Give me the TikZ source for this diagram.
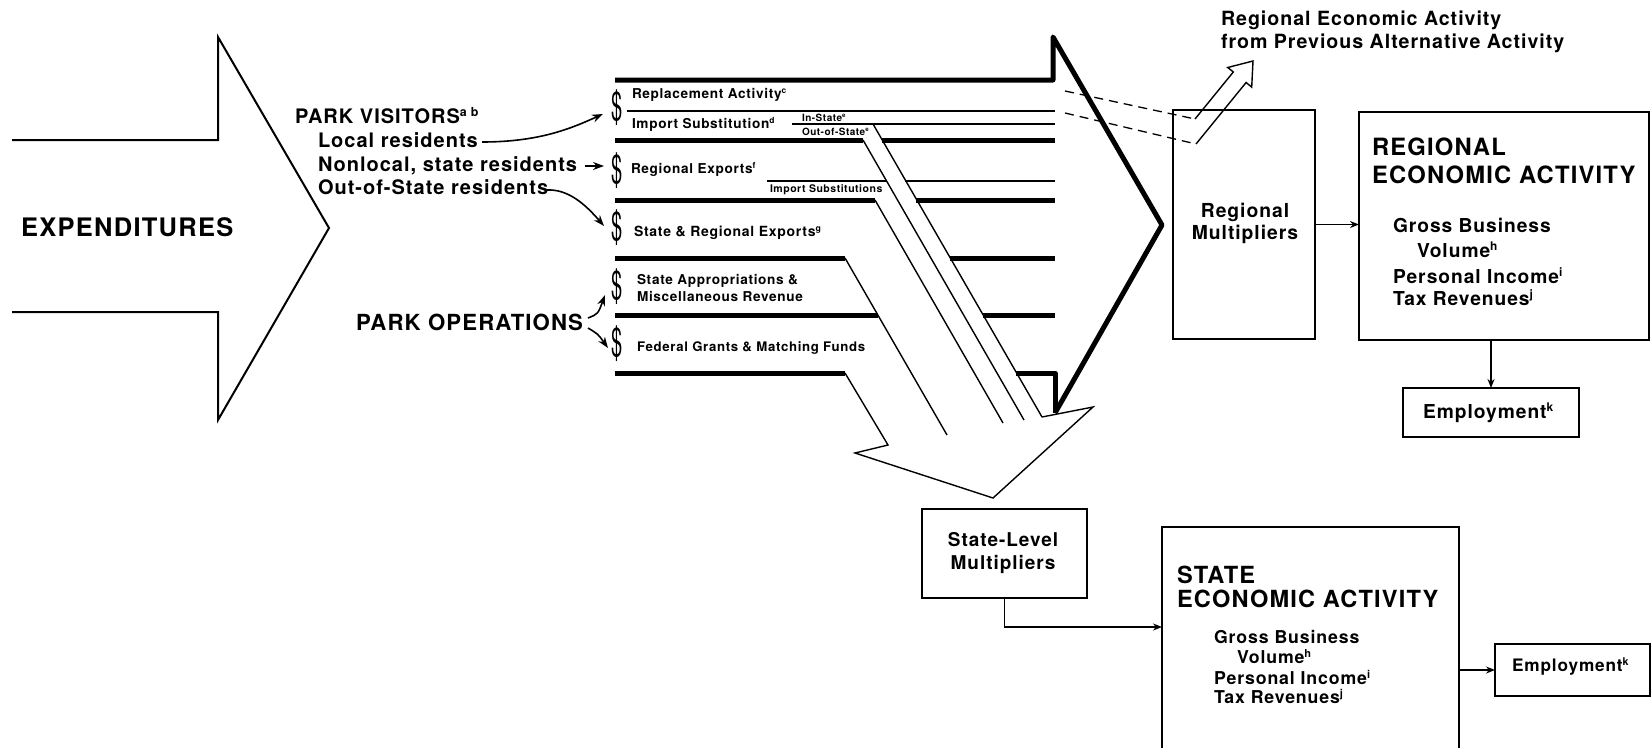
\documentclass[tikz,border=0pt]{standalone}
\usepackage{fontspec}
\setmainfont{TeX Gyre Heros}[LetterSpace=5]
\usepackage{graphicx}
\usetikzlibrary{arrows.meta}
\newcommand\fs[1]{\fontsize{#1}{#1}\selectfont\bfseries}
\newcommand\dol{\scalebox{0.5}[1]{\fontsize{40}{40}\selectfont\mdseries\$}}
\newcommand\sps[1]{\raisebox{0.32em}{\scalebox{0.62}{#1}}}
\begin{document}
\begin{tikzpicture}[x=1pt,y=-1pt,
  txt/.style={anchor=base west,inner sep=0pt,outer sep=0pt},
  ctxt/.style={anchor=base,inner sep=0pt,outer sep=0pt},
  heavy/.style={line width=5pt},
  bigthin/.style={line width=2pt,line join=miter},
  thinl/.style={line width=1.3pt},
  strand/.style={line width=1.4pt,line join=miter},
  dashl/.style={line width=1.3pt,dash pattern=on 9pt off 6pt},
  box/.style={draw,line width=2pt,inner sep=0pt,outer sep=0pt},
  conn/.style={line width=1.3pt,-{Stealth[length=9pt,width=7pt]}},
  parr/.style={line width=1.6pt,-{Stealth[length=11pt,width=8pt]}},
  dollar/.style={inner sep=0pt,outer sep=0pt}]
\fill[white] (0,0) rectangle (1651,747);
\useasboundingbox (0,0) rectangle (1651,747);

% left big arrow
\draw[bigthin] (12,140) -- (218,140) -- (218,37) -- (329,228) -- (218,420) -- (218,312) -- (12,312);
\node[txt,font=\fs{25.5}] (expend) at (21,236) {EXPENDITURES};

% park visitors
\node[txt,font=\fs{20}] (pv) at (295,123) {PARK VISITORS\sps{a b}};
\node[txt,font=\fs{20}] (loc) at (318,147) {Local residents};
\node[txt,font=\fs{20}] (nonloc) at (318,171) {Nonlocal, state residents};
\node[txt,font=\fs{20}] (oos) at (318,194) {Out-of-State residents};
\node[txt,font=\fs{22.2}] (ops) at (356,330) {PARK OPERATIONS};

% dollar signs
\node[dollar] (d1) at (617,108) {\dol};
\node[dollar] (d2) at (617,171) {\dol};
\node[dollar] (d3) at (617,228) {\dol};
\node[dollar] (d4) at (617,287) {\dol};
\node[dollar] (d5) at (617,344) {\dol};

% arrow ends
\coordinate (a1s) at (482,142); \coordinate (a1e) at (603,114);
\coordinate (a2s) at (585,166); \coordinate (a2e) at (604,166);
\coordinate (a3s) at (547,190); \coordinate (a3e) at (604,226);
\coordinate (a4s) at (588,318); \coordinate (a4e) at (605,295);
\coordinate (a5s) at (588,328); \coordinate (a5e) at (608,348);
\draw[parr] (a1s) .. controls (540,142) and (572,128) .. (a1e);
\draw[parr] (a2s) -- (a2e);
\draw[parr] (a3s) .. controls (568,189) and (585,204) .. (a3e);
\draw[parr] (a4s) .. controls (598,314) .. (a4e);
\draw[parr] (a5s) .. controls (598,334) .. (a5e);

% big right arrow frame
\draw[heavy,line join=round] (615,80) -- (1053,80) -- (1053,37) -- (1162,225) -- (1055,413);
\draw[heavy,line join=round] (1016,373) -- (1055,373) -- (1055,413);
\draw[heavy] (615,140) -- (863,140) (882,140) -- (1055,140);
\draw[heavy] (615,200) -- (875,200) (916,200) -- (1055,200);
\draw[heavy] (615,258) -- (845,258) (950,258) -- (1055,258);
\draw[heavy] (615,315) -- (878,315) (983,315) -- (1055,315);
\draw[heavy] (615,373) -- (845,373);

% thin rules
\draw[thinl] (627,111) -- (1055,111);
\draw[thinl] (792,124) -- (1055,124);
\draw[thinl] (767,181) -- (887,181) (905,181) -- (1055,181);

% strands of down arrow
\draw[strand] (873,124) -- (1042,417);
\draw[strand] (863,140) -- (1024,420);
\draw[strand] (875,200) -- (1003,423);
\draw[strand] (845,258) -- (947,435);
\draw[strand] (845,373) -- (888,445) -- (855,453) -- (993,498) -- (1093,407) -- (1042,417);

% row texts
\node[txt,font=\fs{13.6}] (repl) at (632,98) {Replacement Activity\sps{c}};
\node[txt,font=\fs{13.6}] (imps) at (632,128) {Import Substitution\sps{d}};
\node[txt,font=\fs{10}] (inst) at (802,121) {In-State\sps{e}};
\node[txt,font=\fs{10}] (outst) at (802,135) {Out-of-State\sps{e}};
\node[txt,font=\fs{13.6}] (regexp) at (631,173) {Regional Exports\sps{f}};
\node[txt,font=\fs{10.5}] (impss) at (770,192) {Import Substitutions};
\node[txt,font=\fs{14}] (sregexp) at (634,236) {State \& Regional Exports\sps{g}};
\node[txt,font=\fs{13.6}] (sapp1) at (637,284) {State Appropriations \&};
\node[txt,font=\fs{13.6}] (sapp2) at (637,301) {Miscellaneous Revenue};
\node[txt,font=\fs{13.2}] (fed) at (637,351) {Federal Grants \& Matching Funds};

% dashed leak and hollow arrow
\draw[dashl] (1065,91) -- (1195,119);
\draw[dashl] (1065,113) -- (1196,144);
\draw[strand] (1195,119) -- (1233.3,72) -- (1227.7,67.5) -- (1253,61) -- (1251.7,87.1) -- (1246.1,82.5) -- (1196,144);
\node[txt,font=\fs{19.6}] (prev1) at (1221,25) {Regional Economic Activity};
\node[txt,font=\fs{19.6}] (prev2) at (1221,48) {from Previous Alternative Activity};

% regional boxes
\node[box,minimum width=142pt,minimum height=229pt] (rmult) at (1244,224.5) {};
\node[ctxt,font=\fs{19.3}] (rmult1) at (1245,217) {Regional};
\node[ctxt,font=\fs{19.3}] (rmult2) at (1245,239) {Multipliers};
\node[box,minimum width=290pt,minimum height=228pt] (recon) at (1504,226) {};
\node[txt,font=\fs{23.8}] (recon1) at (1372,155) {REGIONAL};
\node[txt,font=\fs{23.8}] (recon2) at (1372,183) {ECONOMIC ACTIVITY};
\node[txt,font=\fs{19.2}] (rg1) at (1393,232) {Gross Business};
\node[txt,font=\fs{19.2}] (rg2) at (1417,257) {Volume\sps{h}};
\node[txt,font=\fs{19.2}] (rg3) at (1393,283) {Personal Income\sps{i}};
\node[txt,font=\fs{19.2}] (rg4) at (1393,305) {Tax Revenues\sps{j}};
\node[box,minimum width=176pt,minimum height=49pt] (emp1) at (1491,412.5) {};
\node[txt,font=\fs{19.2}] (emp1t) at (1423,418) {Employment\sps{k}};
\draw[conn] (rmult.east) -- (rmult.east -| recon.west);
\draw[conn] (emp1.north |- recon.south) -- (emp1.north);

% state boxes
\node[box,minimum width=165pt,minimum height=89pt] (smult) at (1004.5,553.5) {};
\node[ctxt,font=\fs{19}] (smult1) at (1003,546) {State-Level};
\node[ctxt,font=\fs{19}] (smult2) at (1003,569) {Multipliers};
\node[box,minimum width=297pt,minimum height=243pt] (secon) at (1310.5,648.5) {};
\node[txt,font=\fs{23.6}] (secon1) at (1177,583) {STATE};
\node[txt,font=\fs{23.6}] (secon2) at (1177,607) {ECONOMIC ACTIVITY};
\node[txt,font=\fs{17.7}] (sg1) at (1214,643) {Gross Business};
\node[txt,font=\fs{17.7}] (sg2) at (1237,663) {Volume\sps{h}};
\node[txt,font=\fs{17.7}] (sg3) at (1214,684) {Personal Income\sps{i}};
\node[txt,font=\fs{17.7}] (sg4) at (1214,703) {Tax Revenues\sps{j}};
\node[box,minimum width=155pt,minimum height=52pt] (emp2) at (1572.5,670) {};
\node[txt,font=\fs{17.2}] (emp2t) at (1512,671) {Employment\sps{k}};
\coordinate (sin) at ([yshift=-100pt]secon.north west);
\draw[conn] (smult.south) |- (sin);
\draw[conn] (secon.east |- emp2.west) -- (emp2.west);
\end{tikzpicture}
\end{document}
